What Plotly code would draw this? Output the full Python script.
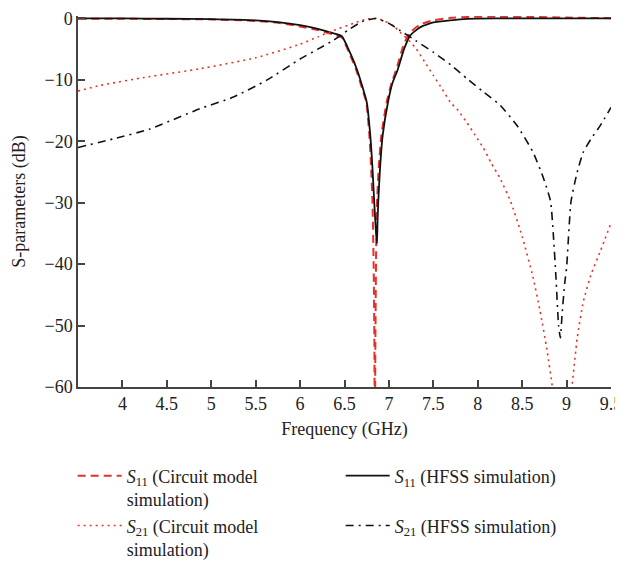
import plotly.graph_objects as go

# S11 HFSS simulation (solid black)
f_s11_hfss = [3.5, 4.0, 4.5, 5.0, 5.5, 5.75, 6.0, 6.2, 6.37, 6.47, 6.56, 6.64, 6.71, 6.75,
              6.79, 6.815, 6.835, 6.855, 6.866, 6.872, 6.88, 6.90, 6.93, 6.99, 7.04, 7.10,
              7.17, 7.24, 7.35, 7.5, 7.69, 7.88, 8.2, 8.6, 9.0, 9.5]
s11_hfss = [0.0, 0.0, -0.05, -0.1, -0.3, -0.6, -1.1, -1.7, -2.4, -2.9, -5.5, -8.3, -11.5, -13.6,
            -19.0, -24.4, -30.0, -35.0, -36.6, -33.0, -29.8, -24.4, -19.0, -13.6, -10.5, -8.3,
            -5.0, -2.75, -1.45, -0.65, -0.3, -0.06, 0.0, 0.0, 0.0, 0.0]

# S11 circuit model simulation (red dashed)
f_s11_circ = [3.5, 4.0, 4.5, 5.0, 5.5, 5.75, 6.0, 6.2, 6.37, 6.47, 6.55, 6.63, 6.7, 6.745,
              6.78, 6.80, 6.815, 6.828, 6.836, 6.842, 6.848, 6.856, 6.866, 6.885, 6.915,
              6.975, 7.03, 7.09, 7.16, 7.23, 7.35, 7.5, 7.7, 7.9, 8.2, 8.6, 9.0, 9.5]
s11_circ = [-0.05, -0.05, -0.1, -0.15, -0.4, -0.7, -1.3, -1.9, -2.6, -3.1, -5.5, -8.3, -11.5, -13.6,
            -19.0, -24.4, -30.0, -40.0, -52.0, -70.0, -52.0, -38.0, -30.0, -24.4, -19.0,
            -13.6, -10.5, -8.0, -4.5, -2.4, -1.0, -0.3, 0.1, 0.25, 0.3, 0.25, 0.15, 0.05]

# S21 circuit model simulation (red dotted)
f_s21_circ = [3.5, 3.75, 4.25, 4.87, 5.5, 6.0, 6.2, 6.37, 6.6, 6.75, 6.85, 6.95, 7.05, 7.13,
              7.22, 7.31, 7.4, 7.5, 7.6, 7.69, 7.78, 7.88, 7.97, 8.06, 8.15, 8.25, 8.37, 8.5,
              8.62, 8.7, 8.78, 8.84, 8.9, 8.95, 9.0, 9.06, 9.12, 9.19, 9.28, 9.38, 9.5]
s21_circ = [-11.8, -10.9, -9.6, -8.2, -6.4, -4.2, -3.0, -2.0, -0.8, -0.1, 0.0, -0.4, -1.2, -2.3,
            -3.5, -5.0, -7.0, -9.3, -11.5, -13.6, -15.0, -17.0, -19.0, -21.0, -23.5, -26.0, -29.8, -35.5,
            -42.0, -47.5, -54.0, -60.0, -67.0, -72.0, -67.0, -60.0, -52.0, -46.0, -41.5, -37.9, -33.3]

# S21 HFSS simulation (black dash-dot)
f_s21_hfss = [3.5, 3.9, 4.31, 4.87, 5.25, 5.63, 6.0, 6.2, 6.37, 6.55, 6.7, 6.85, 7.0, 7.13,
              7.3, 7.5, 7.7, 7.88, 8.05, 8.25, 8.44, 8.62, 8.74, 8.82, 8.85, 8.88, 8.91, 8.93,
              8.95, 8.98, 9.0, 9.05, 9.12, 9.19, 9.28, 9.38, 9.5]
s21_hfss = [-21.0, -19.6, -18.0, -14.7, -12.8, -10.0, -6.6, -5.0, -3.6, -1.8, -0.5, 0.0, -0.8, -2.0,
            -3.6, -5.5, -7.6, -9.8, -11.8, -14.1, -17.4, -21.7, -26.0, -29.8, -35.0, -42.0, -50.0, -52.0,
            -48.0, -43.0, -40.6, -29.8, -25.0, -21.7, -19.5, -17.4, -14.5]

x_ticks = [4, 4.5, 5, 5.5, 6, 6.5, 7, 7.5, 8, 8.5, 9, 9.5]
y_ticks = [0, -10, -20, -30, -40, -50, -60]

FONT = "Liberation Serif, Times New Roman, serif"
RED = "#e8302a"
SMOOTH = 0.5

fig = go.Figure()
fig.add_trace(go.Scatter(x=f_s11_circ, y=s11_circ, mode="lines",
                         name="<i>S</i><sub>11</sub> (Circuit model<br>simulation)",
                         line=dict(color=RED, width=2, dash="8px,5px", shape="spline", smoothing=SMOOTH)))
fig.add_trace(go.Scatter(x=f_s11_hfss, y=s11_hfss, mode="lines",
                         name="<i>S</i><sub>11</sub> (HFSS simulation)",
                         line=dict(color="#111111", width=1.8, shape="spline", smoothing=SMOOTH)))
fig.add_trace(go.Scatter(x=f_s21_circ, y=s21_circ, mode="lines",
                         name="<i>S</i><sub>21</sub> (Circuit model<br>simulation)",
                         line=dict(color=RED, width=1.6, dash="2px,4px", shape="spline", smoothing=SMOOTH)))
fig.add_trace(go.Scatter(x=f_s21_hfss, y=s21_hfss, mode="lines",
                         name="<i>S</i><sub>21</sub> (HFSS simulation)",
                         line=dict(color="#111111", width=1.6, dash="8px,5px,2px,5px",
                                   shape="spline", smoothing=SMOOTH)))

# page body has an 8px margin, so the figure is sized to fit the 623x566 window
fig.update_layout(
    width=615, height=558,
    margin=dict(l=70, r=12, t=8, b=179, autoexpand=False),
    paper_bgcolor="white", plot_bgcolor="white",
    font=dict(family=FONT, size=18, color="#222222"),
    showlegend=True,
    legend=dict(orientation="h", x=-0.01, y=-0.19, xanchor="left", yanchor="top",
                entrywidth=209, entrywidthmode="pixels", itemwidth=44, valign="top",
                font=dict(family=FONT, size=18, color="#222222"), tracegroupgap=0,
                bgcolor="rgba(0,0,0,0)"),
    xaxis=dict(range=[3.5, 9.5], tickvals=x_ticks, ticktext=[str(t) for t in x_ticks],
               showgrid=False, zeroline=False, showline=True, linecolor="#444444", linewidth=1.5,
               ticks="inside", ticklen=7, tickwidth=1.5, tickcolor="#444444", automargin=False,
               ticklabeloverflow="allow",
               title=dict(text="Frequency (GHz)", font=dict(family=FONT, size=18), standoff=9)),
    yaxis=dict(range=[-60, 0.4], tickvals=y_ticks,
               ticktext=["0", "\u221210", "\u221220", "\u221230", "\u221240", "\u221250", "\u221260"],
               showgrid=False, zeroline=False, showline=True, linecolor="#444444", linewidth=1.5,
               ticks="inside", ticklen=7, tickwidth=1.5, tickcolor="#444444", automargin=False,
               ticklabeloverflow="allow",
               title=dict(text="S-parameters (dB)", font=dict(family=FONT, size=18), standoff=14)),
)

fig.write_html("out.html")
